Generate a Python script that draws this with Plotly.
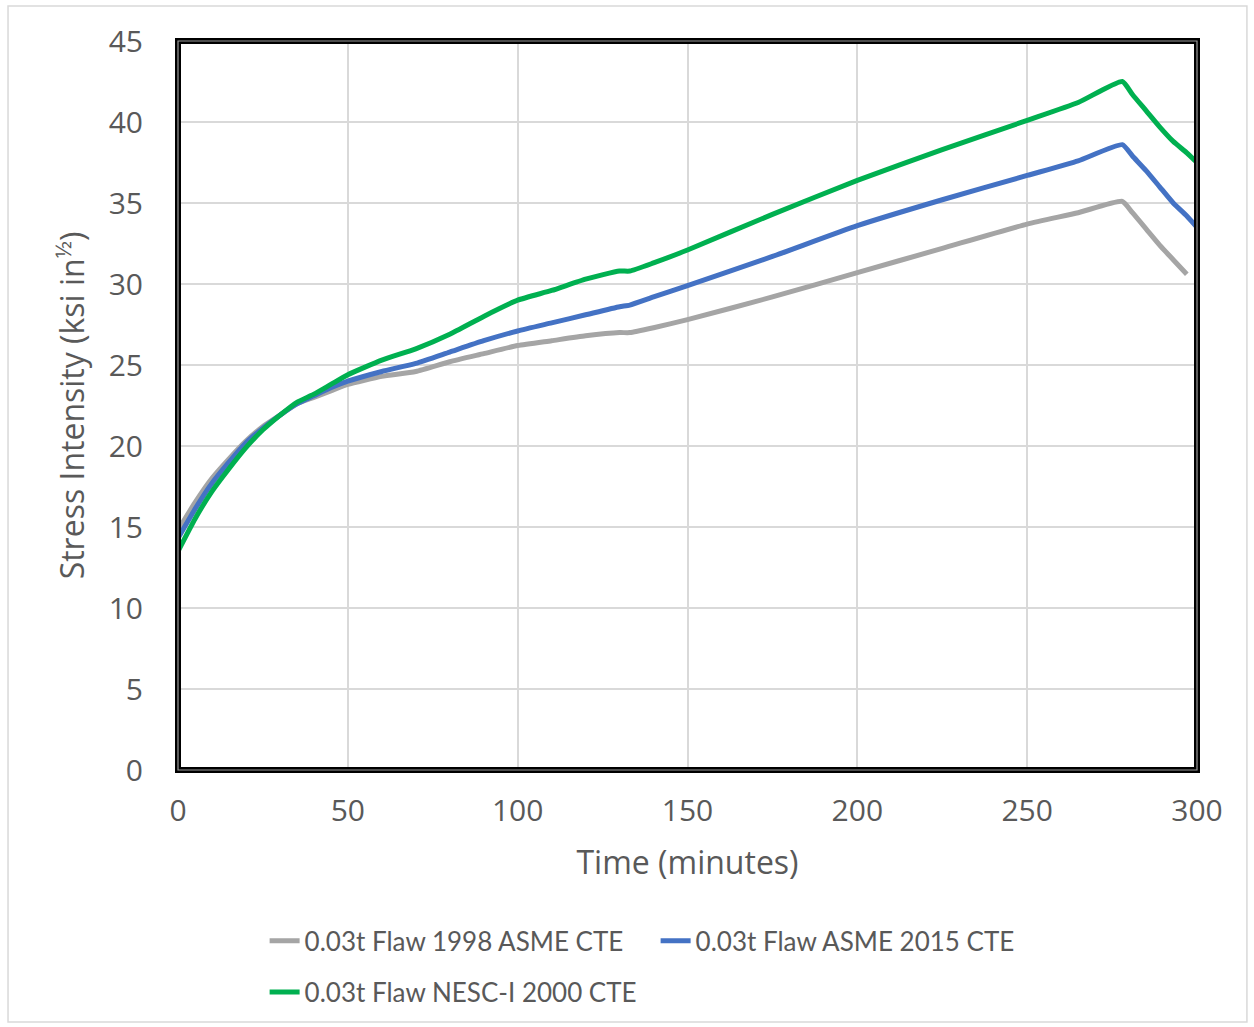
import plotly.graph_objects as go

time_main = [0, 5, 10, 15, 20, 25, 30, 35, 40, 45, 50, 60, 70, 80, 90, 100, 110, 120, 130, 133,
             140, 150, 175, 200, 225, 250, 265, 278, 281, 285, 289, 293, 297, 300]
time_gray = [0, 5, 10, 15, 20, 25, 30, 35, 40, 45, 50, 60, 70, 80, 90, 100, 110, 120, 130, 133,
             140, 150, 175, 200, 225, 250, 265, 278, 281, 285, 289, 293, 297]

k_1998_asme = [14.8, 16.5, 18.0, 19.2, 20.3, 21.2, 21.9, 22.6, 23.0, 23.4, 23.8, 24.3, 24.6, 25.2,
               25.7, 26.2, 26.5, 26.8, 27.0, 27.0, 27.3, 27.8, 29.2, 30.7, 32.2, 33.7, 34.4, 35.1,
               34.4, 33.4, 32.4, 31.5, 30.6]
k_asme_2015 = [14.3, 16.1, 17.7, 19.0, 20.2, 21.1, 21.9, 22.6, 23.1, 23.6, 24.0, 24.6, 25.1, 25.8,
               26.5, 27.1, 27.6, 28.1, 28.6, 28.7, 29.2, 29.9, 31.7, 33.6, 35.2, 36.7, 37.6, 38.6,
               37.9, 37.0, 36.0, 35.0, 34.2, 33.5]
k_nesc_2000 = [13.5, 15.5, 17.2, 18.6, 19.9, 21.0, 21.9, 22.7, 23.2, 23.8, 24.4, 25.3, 26.0, 26.9,
               28.0, 29.0, 29.6, 30.3, 30.8, 30.8, 31.3, 32.1, 34.3, 36.4, 38.3, 40.1, 41.2, 42.5,
               41.7, 40.7, 39.7, 38.8, 38.1, 37.5]

names = ["0.03t Flaw 1998 ASME CTE", "0.03t Flaw ASME 2015 CTE", "0.03t Flaw NESC-I 2000 CTE"]
colors = ["#a5a5a5", "#4472c4", "#00b050"]

x_ticks = [0, 50, 100, 150, 200, 250, 300]
y_ticks = [0, 5, 10, 15, 20, 25, 30, 35, 40, 45]

fig = go.Figure()
for xs, ys, nm, c, lg in [(time_gray, k_1998_asme, names[0], colors[0], "legend"),
                          (time_main, k_asme_2015, names[1], colors[1], "legend"),
                          (time_main, k_nesc_2000, names[2], colors[2], "legend2")]:
    fig.add_trace(go.Scatter(x=xs, y=ys, name=nm, mode="lines", legend=lg,
                             line=dict(color=c, width=5, shape="spline", smoothing=0.5)))

tick_font = dict(family="Open Sans, sans-serif", size=30, color="#595959")
title_font = dict(family="Open Sans, sans-serif", size=32, color="#595959")
legend_font = dict(family="Lato, sans-serif", size=26, color="#595959")

fig.update_layout(
    width=1254, height=1027,
    margin=dict(l=178, r=57, t=41, b=257),
    paper_bgcolor="white", plot_bgcolor="white",
    font=dict(family="Open Sans, sans-serif", color="#595959"),
    xaxis=dict(range=[0, 300], tickvals=x_ticks, showgrid=True, gridcolor="#d9d9d9",
               gridwidth=2, zeroline=False, tickfont=tick_font, ticks="outside", ticklen=14,
               tickcolor="rgba(0,0,0,0)",
               title=dict(text="Time (minutes)", font=title_font, standoff=22)),
    yaxis=dict(range=[0, 45], tickvals=y_ticks, showgrid=True, gridcolor="#d9d9d9",
               gridwidth=2, zeroline=False, tickfont=tick_font, ticks="outside", ticklen=28,
               tickcolor="rgba(0,0,0,0)",
               title=dict(text="Stress Intensity (ksi in<sup>½</sup>)", font=title_font,
                          standoff=14)),
    legend=dict(orientation="h", x=0.085, xanchor="left", y=-0.202, yanchor="top",
                font=legend_font, entrywidth=346, entrywidthmode="pixels",
                traceorder="normal", itemwidth=30),
    legend2=dict(orientation="h", x=0.085, xanchor="left", y=-0.2723, yanchor="top",
                 font=legend_font, itemwidth=30),
    showlegend=True,
)

# double plot border: thick black with a thin gray core
fig.add_shape(type="rect", xref="paper", yref="paper", x0=0, y0=0, x1=1, y1=1,
              line=dict(color="black", width=6), layer="above")
fig.add_shape(type="rect", xref="paper", yref="paper", x0=0, y0=0, x1=1, y1=1,
              line=dict(color="#9a9a9a", width=1.2), layer="above")
# outer chart border
fig.add_shape(type="rect", xref="paper", yref="paper", x0=-0.1668, y0=-0.3457, x1=1.049, y1=1.048,
              line=dict(color="#d9d9d9", width=1.5), layer="below")

fig.write_html("out.html", config={"displayModeBar": False},
               post_script="document.body.style.margin='0px'; document.body.style.overflow='hidden';")
